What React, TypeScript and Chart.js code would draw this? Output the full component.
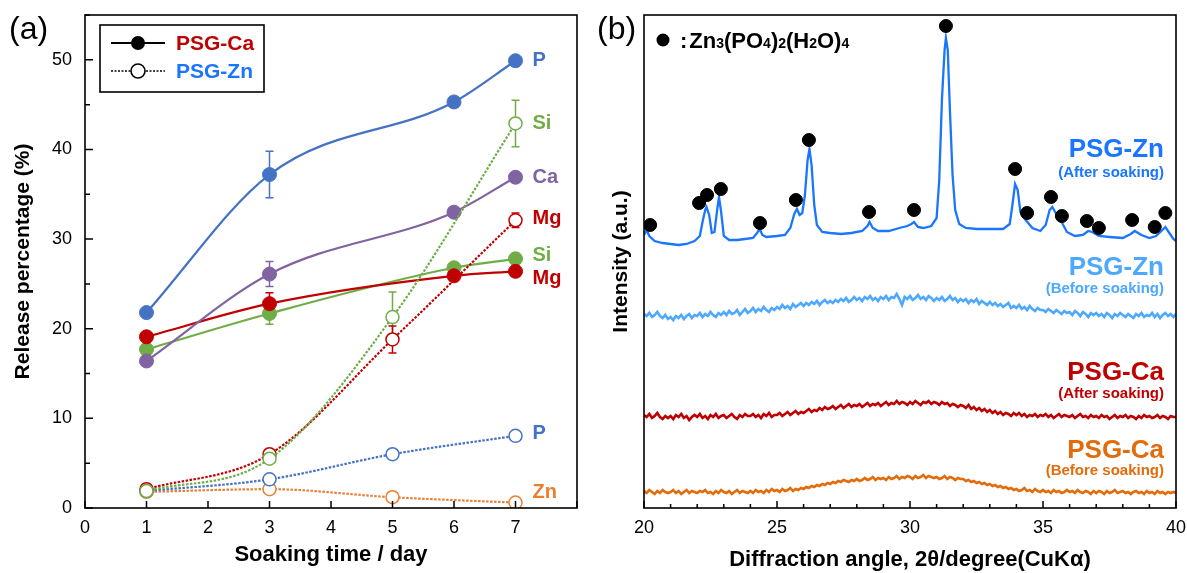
import React, { useEffect, useRef } from "react";
import { Chart, registerables } from "chart.js";
Chart.register(...registerables);

const FONT = "'Liberation Sans', Arial, Helvetica, sans-serif";

// ---------- Panel (a): release percentage ----------
const daysCa = [1, 3, 6, 7];
const daysZn = [1, 3, 5, 7];
const caP = [21.8, 37.2, 45.3, 49.9];
const caCa = [16.4, 26.1, 33.0, 36.9];
const caMg = [19.1, 22.8, 25.9, 26.4];
const caSi = [17.7, 21.7, 26.8, 27.8];
const caPErr = [0, 2.6, 0, 0];
const caCaErr = [0, 1.4, 0, 0];
const caMgErr = [0, 1.2, 0, 0];
const caSiErr = [0, 1.2, 0, 0];
const znSi = [1.9, 5.5, 21.3, 42.9];
const znMg = [2.1, 6.0, 18.8, 32.1];
const znP = [1.9, 3.2, 6.0, 8.05];
const znZn = [1.8, 2.1, 1.2, 0.6];
const znSiErr = [0, 0, 2.8, 2.6];
const znMgErr = [0, 0, 1.5, 0.8];
const znPErr = [0, 0, 0, 0];
const znZnErr = [0, 0, 0, 0];
const xTicksA = [0, 1, 2, 3, 4, 5, 6, 7];
const yTicksA = [0, 10, 20, 30, 40, 50];

const C_P = "#4472C4";
const C_CA = "#8064A2";
const C_MG = "#C00000";
const C_SI = "#70AD47";
const C_ZN = "#ED7D31";

// ---------- Panel (b): XRD ----------
const xrdStart = 20;
const xrdStep = 0.1;
const xrdZnBefore = [
  194,192,195,191,193,196,192,190,193,189,
  191,188,192,190,193,189,192,194,190,193,
  192,195,191,194,192,196,193,191,195,193,
  196,193,197,194,195,198,193,196,199,195,
  197,200,196,199,197,201,198,196,200,198,
  201,199,203,200,202,199,204,201,203,205,
  202,205,203,206,204,207,203,206,208,205,
  207,205,208,206,209,207,210,206,208,211,
  208,210,207,211,209,212,208,210,207,211,
  209,212,208,211,210,214,209,203,211,209,
  212,208,210,213,209,211,208,212,210,207,
  210,208,211,207,209,212,208,210,206,209,
  207,209,205,208,206,209,204,207,205,203,
  206,203,205,202,204,201,203,205,200,202,
  200,203,199,201,198,202,199,197,200,198,
  198,196,199,197,195,198,196,194,197,195,
  196,193,197,195,192,196,194,191,195,193,
  195,192,194,191,195,193,190,194,192,195,
  193,191,194,192,190,194,192,195,191,193,
  192,195,191,194,190,193,195,192,194,191,
  194
];
const xrdCaAfter = [
  93,91,94,90,92,95,91,89,92,90,
  92,89,93,91,94,90,92,88,91,93,
  91,94,90,92,89,93,91,94,90,92,
  93,90,92,94,91,89,93,91,94,92,
  92,94,91,93,90,94,92,95,91,93,
  93,95,92,94,96,93,95,97,94,96,
  95,97,99,96,98,97,100,98,101,99,
  100,102,99,101,103,100,102,104,101,103,
  102,104,101,103,105,102,104,103,105,102,
  104,106,103,105,104,107,104,106,105,103,
  106,104,107,105,103,106,105,107,104,106,
  105,103,106,104,105,102,104,103,101,103,
  102,100,103,99,101,98,100,97,99,96,
  98,95,97,94,96,93,95,94,92,95,
  93,95,92,94,91,93,92,94,91,93,
  92,94,91,93,90,92,94,91,93,92,
  91,93,90,92,94,91,92,90,93,91,
  92,90,93,91,92,89,91,93,90,92,
  91,93,90,92,91,89,92,90,93,91,
  92,90,91,93,90,92,91,89,92,91,
  91
];
const xrdCaBefore = [
  17,15,18,16,14,17,15,18,16,15,
  16,18,15,17,14,16,18,15,17,16,
  15,17,16,18,15,16,14,17,15,18,
  16,15,17,14,16,18,15,17,16,15,
  17,15,18,16,17,15,18,16,19,17,
  18,16,19,17,18,20,17,19,18,20,
  19,21,20,22,21,23,22,24,23,25,
  24,26,25,27,26,28,27,26,28,27,
  29,27,28,30,28,29,31,28,30,29,
  30,28,31,29,30,32,29,31,30,32,
  31,29,32,30,31,33,30,32,31,30,
  31,29,30,32,29,31,30,28,30,29,
  29,27,28,26,27,25,26,24,25,23,
  24,22,23,21,22,20,21,19,20,18,
  19,17,18,20,17,18,16,19,17,16,
  18,16,17,15,18,16,17,15,16,18,
  16,17,15,18,16,15,17,16,14,17,
  15,17,16,14,17,15,16,18,15,16,
  17,15,16,14,16,17,15,16,14,17,
  15,16,14,17,15,16,14,16,15,16,
  15
];
const xrdZnAfterAngle = [
  20.0,20.1,20.2,20.4,20.7,21.0,21.3,21.6,21.9,22.1,22.2,22.3,22.35,22.45,22.55,22.65,22.75,22.82,22.9,
  23.0,23.2,23.5,23.8,24.1,24.25,24.35,24.45,24.6,25.0,25.3,25.5,25.65,25.75,25.85,25.95,26.05,26.15,
  26.22,26.3,26.4,26.5,26.7,27.0,27.4,27.8,28.2,28.4,28.48,28.6,28.8,29.2,29.6,29.9,30.05,30.15,30.3,
  30.5,30.8,31.0,31.1,31.2,31.3,31.35,31.42,31.5,31.6,31.7,31.85,32.1,32.5,33.0,33.5,33.75,33.85,33.95,
  34.05,34.15,34.35,34.6,34.9,35.1,35.25,35.35,35.5,35.7,35.9,36.2,36.5,36.7,36.85,37.1,37.5,38.0,38.3,
  38.45,38.7,39.0,39.25,39.45,39.6,39.75,39.9,40.0
];
const xrdZnAfterIntensity = [
  273,278,272,267,265,264,263,264,267,272,286,298,301,293,275,276,298,311,296,
  272,268,268,269,270,275,279,273,271,272,273,280,294,299,293,295,313,348,
  359,343,303,283,276,275,274,275,277,282,286,280,277,277,280,282,284,286,281,
  280,282,290,328,408,458,470,458,398,333,298,284,280,279,279,279,284,303,324,
  318,296,288,280,277,283,298,301,294,286,276,272,273,277,276,272,271,270,274,
  277,273,270,272,277,281,275,269,267
];
const peakMarkAngle = [20.23,22.07,22.37,22.89,24.36,25.71,26.2,28.46,30.15,31.35,33.95,34.4,35.3,35.71,36.65,37.1,38.35,39.2,39.6];
const peakMarkIntensity = [283,305,313,319,285,308,368,296,298,482,339,295,311,292,287,280,288,281,295];

const C_ZN_AFTER = "#1A75FF";
const C_ZN_BEFORE = "#4DA8FF";
const C_CA_AFTER = "#C00000";
const C_CA_BEFORE = "#E36C0A";

const pts = (xs: number[], ys: number[]) => xs.map((x, i) => ({ x, y: ys[i] }));
const seq = (ys: number[]) => ys.map((y, i) => ({ x: +(xrdStart + i * xrdStep).toFixed(2), y }));

const errorSets = [
  { xs: daysCa, ys: caP, err: caPErr, color: C_P },
  { xs: daysCa, ys: caCa, err: caCaErr, color: C_CA },
  { xs: daysCa, ys: caMg, err: caMgErr, color: C_MG },
  { xs: daysCa, ys: caSi, err: caSiErr, color: C_SI },
  { xs: daysZn, ys: znSi, err: znSiErr, color: C_SI },
  { xs: daysZn, ys: znMg, err: znMgErr, color: C_MG },
  { xs: daysZn, ys: znP, err: znPErr, color: C_P },
  { xs: daysZn, ys: znZn, err: znZnErr, color: C_ZN },
];

const seriesLabelsA = [
  { text: "P", x: 7, y: caP[3], dy: 0, color: C_P },
  { text: "Si", x: 7, y: znSi[3], dy: 0, color: C_SI },
  { text: "Ca", x: 7, y: caCa[3], dy: 0, color: C_CA },
  { text: "Mg", x: 7, y: znMg[3], dy: -2, color: C_MG },
  { text: "Si", x: 7, y: caSi[3], dy: -3, color: C_SI },
  { text: "Mg", x: 7, y: caMg[3], dy: 7, color: C_MG },
  { text: "P", x: 7, y: znP[3], dy: -2, color: C_P },
  { text: "Zn", x: 7, y: znZn[3], dy: -10, color: C_ZN },
];

function drawBox(ctx: CanvasRenderingContext2D, a: any) {
  ctx.save();
  ctx.strokeStyle = "#000";
  ctx.lineWidth = 1.6;
  ctx.strokeRect(a.left, a.top, a.right - a.left, a.bottom - a.top);
  ctx.restore();
}

const panelAPlugin = {
  id: "panelA",
  beforeDatasetsDraw(chart: any) {
    const { ctx, scales } = chart;
    const x = scales.x, y = scales.y;
    ctx.save();
    ctx.lineWidth = 1.5;
    errorSets.forEach((s) => {
      ctx.strokeStyle = s.color;
      s.xs.forEach((d, i) => {
        const e = s.err[i];
        if (!e) return;
        const px = x.getPixelForValue(d);
        const y1 = y.getPixelForValue(s.ys[i] + e);
        const y2 = y.getPixelForValue(s.ys[i] - e);
        ctx.beginPath();
        ctx.moveTo(px, y1); ctx.lineTo(px, y2);
        ctx.moveTo(px - 4, y1); ctx.lineTo(px + 4, y1);
        ctx.moveTo(px - 4, y2); ctx.lineTo(px + 4, y2);
        ctx.stroke();
      });
    });
    ctx.restore();
  },
  afterDraw(chart: any) {
    const { ctx, chartArea: a, scales } = chart;
    const x = scales.x, y = scales.y;
    drawBox(ctx, a);
    ctx.save();
    ctx.strokeStyle = "#000";
    ctx.lineWidth = 1.5;
    ctx.beginPath();
    x.ticks.forEach((t: any) => {
      const px = x.getPixelForValue(t.value);
      ctx.moveTo(px, a.bottom); ctx.lineTo(px, a.bottom - 7);
    });
    y.ticks.forEach((t: any) => {
      const py = y.getPixelForValue(t.value);
      const len = t.value % 10 === 0 ? 8 : 5;
      ctx.moveTo(a.left, py); ctx.lineTo(a.left + len, py);
    });
    ctx.stroke();
    // series labels
    ctx.font = `bold 20px ${FONT}`;
    ctx.textBaseline = "middle";
    ctx.textAlign = "left";
    seriesLabelsA.forEach((l) => {
      ctx.fillStyle = l.color;
      ctx.fillText(l.text, x.getPixelForValue(l.x) + 17, y.getPixelForValue(l.y) + l.dy);
    });
    // panel letter
    ctx.fillStyle = "#000";
    ctx.font = `32px ${FONT}`;
    ctx.fillText("(a)", 9, 30);
    // legend
    ctx.lineWidth = 1.6;
    ctx.strokeRect(100, 25, 164, 67);
    ctx.lineWidth = 1.8;
    ctx.beginPath(); ctx.moveTo(111, 43); ctx.lineTo(165, 43); ctx.stroke();
    ctx.beginPath(); ctx.arc(138, 43, 7, 0, Math.PI * 2); ctx.fillStyle = "#000"; ctx.fill();
    ctx.setLineDash([2, 1.5]);
    ctx.lineWidth = 1.5;
    ctx.beginPath(); ctx.moveTo(111, 71); ctx.lineTo(165, 71); ctx.stroke();
    ctx.setLineDash([]);
    ctx.beginPath(); ctx.arc(138, 71, 7, 0, Math.PI * 2); ctx.fillStyle = "#fff"; ctx.fill();
    ctx.lineWidth = 1.6; ctx.stroke();
    ctx.font = `bold 21px ${FONT}`;
    ctx.fillStyle = "#C00000";
    ctx.fillText("PSG-Ca", 176, 44);
    ctx.fillStyle = "#1A75FF";
    ctx.fillText("PSG-Zn", 176, 72);
    ctx.restore();
  },
};

const seriesLabelsB = [
  { main: "PSG-Zn", sub: "(After soaking)", y: 150, ys: 173, color: C_ZN_AFTER },
  { main: "PSG-Zn", sub: "(Before soaking)", y: 268, ys: 289, color: C_ZN_BEFORE },
  { main: "PSG-Ca", sub: "(After soaking)", y: 373, ys: 394, color: C_CA_AFTER },
  { main: "PSG-Ca", sub: "(Before soaking)", y: 451, ys: 471, color: C_CA_BEFORE },
];

const panelBPlugin = {
  id: "panelB",
  afterDraw(chart: any) {
    const { ctx, chartArea: a, scales } = chart;
    const x = scales.x;
    drawBox(ctx, a);
    ctx.save();
    ctx.strokeStyle = "#000";
    ctx.lineWidth = 1.5;
    ctx.beginPath();
    x.ticks.forEach((t: any) => {
      const px = x.getPixelForValue(t.value);
      const len = t.value % 5 === 0 ? 7 : 4;
      ctx.moveTo(px, a.bottom); ctx.lineTo(px, a.bottom - len);
    });
    ctx.stroke();
    ctx.textBaseline = "middle";
    ctx.textAlign = "right";
    seriesLabelsB.forEach((l) => {
      ctx.fillStyle = l.color;
      ctx.font = `bold 26px ${FONT}`;
      ctx.fillText(l.main, a.right - 12, l.y);
      ctx.font = `bold 15px ${FONT}`;
      ctx.fillText(l.sub, a.right - 12, l.ys);
    });
    ctx.textAlign = "left";
    ctx.fillStyle = "#000";
    ctx.font = `32px ${FONT}`;
    ctx.fillText("(b)", 7, 30);
    // formula key
    ctx.beginPath(); ctx.arc(73, 40, 6.5, 0, Math.PI * 2); ctx.fill();
    ctx.textBaseline = "alphabetic";
    const parts: [string, boolean][] = [
      [":", false], [" ", false], ["Zn", false], ["3", true], ["(PO", false], ["4", true], [")", false],
      ["2", true], ["(H", false], ["2", true], ["O)", false], ["4", true],
    ];
    let cx = 90;
    parts.forEach(([t, sub]) => {
      ctx.font = sub ? `bold 14px ${FONT}` : `bold 22px ${FONT}`;
      if (t === " ") { cx += 2; return; }
      ctx.fillText(t, cx, 48);
      cx += ctx.measureText(t).width;
    });
    ctx.restore();
  },
};

const noPadX = (h: number) => (s: any) => { s.height = h; s.paddingLeft = 0; s.paddingRight = 0; };
const noPadY = (w: number) => (s: any) => { s.width = w; s.paddingTop = 0; s.paddingBottom = 0; };

const App = () => {
  const refA = useRef<HTMLCanvasElement>(null);
  const refB = useRef<HTMLCanvasElement>(null);

  useEffect(() => {
    Chart.defaults.color = "#000";
    Chart.defaults.font.family = FONT;

    const solid = (label: string, ys: number[], color: string) => ({
      label,
      data: pts(daysCa, ys),
      borderColor: color,
      backgroundColor: color,
      borderWidth: 2.2,
      pointRadius: 7,
      pointHoverRadius: 7,
      pointBackgroundColor: color,
      pointBorderColor: color,
      pointBorderWidth: 1,
      cubicInterpolationMode: "monotone" as const,
    });
    const dashed = (label: string, ys: number[], color: string) => ({
      label,
      data: pts(daysZn, ys),
      borderColor: color,
      backgroundColor: "#fff",
      borderWidth: 2.2,
      borderDash: [2.5, 1.5],
      pointRadius: 6.5,
      pointHoverRadius: 6.5,
      pointBackgroundColor: "#fff",
      pointBorderColor: color,
      pointBorderWidth: 1.5,
      cubicInterpolationMode: "monotone" as const,
    });

    const chartA = new Chart(refA.current!, {
      type: "line",
      data: {
        datasets: [
          dashed("PSG-Zn Si", znSi, C_SI),
          dashed("PSG-Zn Mg", znMg, C_MG),
          dashed("PSG-Zn P", znP, C_P),
          dashed("PSG-Zn Zn", znZn, C_ZN),
          solid("PSG-Ca P", caP, C_P),
          solid("PSG-Ca Ca", caCa, C_CA),
          solid("PSG-Ca Mg", caMg, C_MG),
          solid("PSG-Ca Si", caSi, C_SI),
        ],
      },
      options: {
        animation: false,
        responsive: true,
        maintainAspectRatio: false,
        layout: { padding: { left: 0, top: 15, right: 13, bottom: 0 } },
        plugins: { legend: { display: false }, tooltip: { enabled: false } },
        scales: {
          x: {
            type: "linear",
            min: 0,
            max: 8,
            grid: { display: false, drawTicks: false },
            border: { display: false },
            ticks: {
              stepSize: 1,
              autoSkip: false,
              maxRotation: 0,
              padding: 9,
              font: { size: 18, family: FONT },
              color: "#000",
              callback: (v: any) => (xTicksA.includes(v) ? String(v) : ""),
            },
            title: {
              display: true,
              text: "Soaking time / day",
              font: { size: 22, weight: "bold", family: FONT },
              color: "#000",
              padding: { top: 0, bottom: 5 },
            },
            afterFit: noPadX(65),
          },
          y: {
            min: 0,
            max: 55,
            grid: { display: false, drawTicks: false },
            border: { display: false },
            ticks: {
              stepSize: 5,
              autoSkip: false,
              padding: 13,
              font: { size: 18, family: FONT },
              color: "#000",
              callback: (v: any) => (yTicksA.includes(v) ? String(v) : ""),
            },
            title: {
              display: true,
              text: "Release percentage (%)",
              font: { size: 21, weight: "bold", family: FONT },
              color: "#000",
              padding: { top: 11, bottom: 0 },
            },
            afterFit: noPadY(85),
          },
        },
      } as any,
      plugins: [panelAPlugin],
    });

    const chartB = new Chart(refB.current!, {
      type: "line",
      data: {
        datasets: [
          {
            label: "Zn3(PO4)2(H2O)4",
            data: pts(peakMarkAngle, peakMarkIntensity),
            showLine: false,
            pointRadius: 6.5,
            pointHoverRadius: 6.5,
            pointBackgroundColor: "#000",
            pointBorderColor: "#000",
            borderColor: "#000",
          },
          {
            label: "PSG-Zn after",
            data: pts(xrdZnAfterAngle, xrdZnAfterIntensity),
            borderColor: C_ZN_AFTER,
            borderWidth: 2.3,
            pointRadius: 0,
            tension: 0,
          },
          {
            label: "PSG-Zn before",
            data: seq(xrdZnBefore),
            borderColor: C_ZN_BEFORE,
            borderWidth: 2.6,
            pointRadius: 0,
            tension: 0,
          },
          {
            label: "PSG-Ca after",
            data: seq(xrdCaAfter),
            borderColor: C_CA_AFTER,
            borderWidth: 2.6,
            pointRadius: 0,
            tension: 0,
          },
          {
            label: "PSG-Ca before",
            data: seq(xrdCaBefore),
            borderColor: C_CA_BEFORE,
            borderWidth: 2.6,
            pointRadius: 0,
            tension: 0,
          },
        ],
      },
      options: {
        animation: false,
        responsive: true,
        maintainAspectRatio: false,
        layout: { padding: { left: 0, top: 15, right: 11, bottom: 0 } },
        plugins: { legend: { display: false }, tooltip: { enabled: false } },
        scales: {
          x: {
            type: "linear",
            min: 20,
            max: 40,
            grid: { display: false, drawTicks: false },
            border: { display: false },
            ticks: {
              stepSize: 1,
              autoSkip: false,
              maxRotation: 0,
              padding: 9,
              font: { size: 18, family: FONT },
              color: "#000",
              callback: (v: any) => (v % 5 === 0 ? String(v) : ""),
            },
            title: {
              display: true,
              text: "Diffraction angle, 2\u03B8/degree(CuK\u03B1)",
              font: { size: 22, weight: "bold", family: FONT },
              color: "#000",
              padding: { top: 0, bottom: 0 },
            },
            afterFit: noPadX(65),
          },
          y: {
            min: 0,
            max: 493,
            grid: { display: false, drawTicks: false },
            border: { display: false },
            ticks: { display: false },
            title: {
              display: true,
              text: "Intensity (a.u.)",
              font: { size: 21, weight: "bold", family: FONT },
              color: "#000",
              padding: { top: 19, bottom: 0 },
            },
            afterFit: noPadY(54),
          },
        },
      } as any,
      plugins: [panelBPlugin],
    });

    return () => {
      chartA.destroy();
      chartB.destroy();
    };
  }, []);

  return (
    <div style={{ position: "absolute", left: 0, top: 0, width: 1187, height: 573, background: "#fff" }}>
      <div style={{ position: "absolute", left: 0, top: 0, width: 590, height: 573 }}>
        <canvas ref={refA} />
      </div>
      <div style={{ position: "absolute", left: 590, top: 0, width: 597, height: 573 }}>
        <canvas ref={refB} />
      </div>
    </div>
  );
};

export default App;
